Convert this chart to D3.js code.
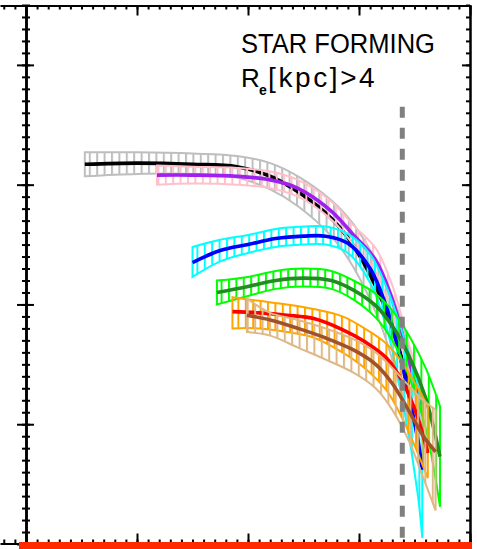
<!DOCTYPE html>
<html>
<head>
<meta charset="utf-8">
<script src="https://cdn.jsdelivr.net/npm/d3@7"></script>
<style>
body { margin:0; background:#fff; }
svg { display:block; }
</style>
</head>
<body>
<script>
var width = 477, height = 549;

// radius grid, median profile, and lower / upper edge of the band, one set per bin
var xGray = [0.53, 1.0, 1.5, 1.9, 2.2, 2.45, 2.75, 2.95, 3.2, 3.35, 3.45];
var yBlack = [3.17, 3.18, 3.17, 3.15, 3.07, 2.94, 2.72, 2.49, 2.05, 1.66, 1.33];
var loGray = [3.07, 3.09, 3.09, 3.06, 2.96, 2.82, 2.57, 2.31, 1.82, 1.37, 1.00];
var hiGray = [3.27, 3.27, 3.26, 3.24, 3.18, 3.07, 2.87, 2.67, 2.28, 1.95, 1.66];

var xPink = [1.18, 1.5, 1.9, 2.2, 2.45, 2.75, 2.95, 3.15, 3.3, 3.45, 3.55];
var yPurple = [3.08, 3.08, 3.07, 3.04, 2.97, 2.78, 2.58, 2.37, 2.04, 1.54, 1.16];
var loPink = [3.00, 3.01, 3.00, 2.97, 2.90, 2.71, 2.50, 2.27, 1.92, 1.41, 1.01];
var hiPink = [3.16, 3.15, 3.14, 3.11, 3.04, 2.86, 2.66, 2.47, 2.16, 1.67, 1.31];

var xCyan = [1.5, 1.75, 2.0, 2.25, 2.5, 2.7, 2.9, 3.1, 3.25, 3.4, 3.53, 3.57];
var yBlue = [2.35, 2.45, 2.50, 2.55, 2.57, 2.57, 2.51, 2.30, 1.97, 1.45, 0.87, 0.62];
var loCyan = [2.23, 2.36, 2.43, 2.48, 2.50, 2.50, 2.43, 2.18, 1.80, 1.16, 0.41, 0.05];
var hiCyan = [2.48, 2.54, 2.58, 2.63, 2.65, 2.65, 2.59, 2.42, 2.14, 1.74, 1.33, 1.18];

var xGreen = [1.72, 2.0, 2.25, 2.5, 2.75, 2.95, 3.15, 3.3, 3.45, 3.6, 3.73];
var yDkGreen = [2.10, 2.15, 2.20, 2.22, 2.20, 2.12, 1.99, 1.82, 1.57, 1.22, 0.73];
var loGreen = [2.00, 2.07, 2.13, 2.15, 2.13, 2.04, 1.89, 1.70, 1.40, 0.97, 0.31];
var hiGreen = [2.20, 2.23, 2.28, 2.30, 2.28, 2.20, 2.09, 1.95, 1.74, 1.47, 1.15];

var xOrange = [1.86, 2.1, 2.35, 2.6, 2.85, 3.05, 3.25, 3.4, 3.52, 3.62];
var yRed = [1.94, 1.93, 1.91, 1.88, 1.79, 1.69, 1.55, 1.34, 1.08, 0.76];
var loOrange = [1.80, 1.80, 1.77, 1.72, 1.60, 1.47, 1.28, 1.03, 0.78, 0.55];
var hiOrange = [2.06, 2.03, 2.00, 1.96, 1.90, 1.80, 1.67, 1.50, 1.32, 1.15];

var xTan = [1.99, 2.2, 2.45, 2.7, 2.95, 3.15, 3.3, 3.45, 3.58, 3.69];
var yBrown = [1.91, 1.87, 1.80, 1.72, 1.62, 1.50, 1.34, 1.11, 0.90, 0.77];
var loTan = [1.77, 1.74, 1.64, 1.54, 1.43, 1.30, 1.12, 0.86, 0.55, 0.28];
var hiTan = [2.05, 1.93, 1.87, 1.80, 1.71, 1.60, 1.47, 1.32, 1.20, 1.12];

var bandColors = ["#bebebe", "#ffc0cb", "#00ffff", "#00ff00", "#ffa500", "#deb887"];
var lineColors = ["#000000", "#a020f0", "#0000ff", "#228b22", "#ff0000", "#a0522d"];

var xCut = 3.39, yCutTop = 3.65;   // vertical dashed limit

var groups = [
    [xGray, yBlack, loGray, hiGray],
    [xPink, yPurple, loPink, hiPink],
    [xCyan, yBlue, loCyan, hiCyan],
    [xGreen, yDkGreen, loGreen, hiGreen],
    [xOrange, yRed, loOrange, hiOrange],
    [xTan, yBrown, loTan, hiTan]
].map(function(g){
    return g[0].map(function(v,i){ return {x:v, m:g[1][i], lo:g[2][i], hi:g[3][i]}; });
});

var svg = d3.select("body").append("svg")
            .attr("width",width)
            .attr("height",height)
            .style("background","#fff");

var x = d3.scaleLinear().domain([0,4]).range([26,470]);
var y = d3.scaleLinear().domain([0,4.5]).range([544,5]);

// hatch patterns, one per band colour
var defs = svg.append("defs");
bandColors.forEach(function(c,i){
    var p = defs.append("pattern")
                .attr("id","hatch"+i)
                .attr("patternUnits","userSpaceOnUse")
                .attr("width",7.4)
                .attr("height",10)
                .attr("x",i*2);
    p.append("rect").attr("x",0).attr("y",0).attr("width",2).attr("height",10).attr("fill",c);
});

var curve = d3.curveCatmullRom.alpha(0.5);
var area = d3.area()
             .x(function(d){ return x(d.x); })
             .y0(function(d){ return y(d.lo); })
             .y1(function(d){ return y(d.hi); })
             .curve(curve);
var line = d3.line()
             .x(function(d){ return x(d.x); })
             .y(function(d){ return y(d.m); })
             .curve(curve);

groups.forEach(function(g,i){
    svg.append("path")
       .attr("d",area(g))
       .attr("fill","url(#hatch"+i+")")
       .attr("stroke",bandColors[i])
       .attr("stroke-width",2);
    svg.append("path")
       .attr("d",line(g))
       .attr("fill","none")
       .attr("stroke",lineColors[i])
       .attr("stroke-width",3.6);
});

svg.append("line")
   .attr("x1",x(xCut)).attr("x2",x(xCut))
   .attr("y1",y(yCutTop)).attr("y2",y(0))
   .attr("stroke","#808080")
   .attr("stroke-width",5)
   .attr("stroke-dasharray","11,10");

// axes
var majorX = [0,1,2,3,4], minorX = d3.range(0,41).map(function(i){ return i/10; });
var majorY = [0,1,2,3,4], minorY = d3.range(0,46).map(function(i){ return i/10; });

function drawAxis(axis, tx, ty){
    var g = svg.append("g").attr("transform","translate("+tx+","+ty+")").call(axis);
    g.selectAll("path,line").attr("stroke","#000").attr("stroke-width",2);
    g.selectAll("text").remove();
    return g;
}
// top
drawAxis(d3.axisTop(x).tickValues(minorX).tickSize(-4).tickSizeOuter(0).tickFormat(""),0,5.5);
drawAxis(d3.axisTop(x).tickValues(majorX).tickSize(-10).tickSizeOuter(0).tickFormat(""),0,5.5);
// bottom
drawAxis(d3.axisBottom(x).tickValues(minorX).tickSize(-4).tickSizeOuter(0).tickFormat(""),0,543.5);
drawAxis(d3.axisBottom(x).tickValues(majorX).tickSize(-10).tickSizeOuter(0).tickFormat(""),0,543.5);
// left, with the ticks of the next panel on its outer side
drawAxis(d3.axisRight(y).tickValues(minorY).tickSize(4).tickSizeOuter(0).tickFormat(""),26,0);
drawAxis(d3.axisRight(y).tickValues(majorY).tickSize(8).tickSizeOuter(0).tickFormat(""),26,0);
drawAxis(d3.axisLeft(y).tickValues(minorY).tickSize(4).tickSizeOuter(0).tickFormat(""),26,0);
drawAxis(d3.axisLeft(y).tickValues(majorY).tickSize(9).tickSizeOuter(0).tickFormat(""),26,0);
// right
drawAxis(d3.axisLeft(y).tickValues(minorY).tickSize(4).tickSizeOuter(0).tickFormat(""),470,0);
drawAxis(d3.axisLeft(y).tickValues(majorY).tickSize(8).tickSizeOuter(0).tickFormat(""),470,0);

// edge of the neighbouring panel on the left
var xPrev = d3.scaleLinear().domain([3.766,4]).range([0,26]);
drawAxis(d3.axisTop(xPrev).tickValues([3.8,3.9]).tickSize(-4).tickSizeOuter(0).tickFormat(""),0,5.5);
drawAxis(d3.axisBottom(xPrev).tickValues([3.8,3.9]).tickSize(-4).tickSizeOuter(0).tickFormat(""),0,543.5);

// top of the panel below
svg.append("rect")
   .attr("x",19).attr("y",542)
   .attr("width",453).attr("height",7)
   .attr("fill","#ff2a00");

// labels
var font = "'Liberation Sans', Arial, sans-serif";
svg.append("text")
   .attr("x",241).attr("y",53)
   .attr("font-family",font).attr("font-size",27)
   .attr("textLength",194).attr("lengthAdjust","spacingAndGlyphs")
   .text("STAR FORMING");
var lab = svg.append("text")
   .attr("y",87)
   .attr("font-family",font).attr("font-size",26);
lab.append("tspan").attr("x",241).text("R");
lab.append("tspan").attr("x",259).attr("dy",8)
   .attr("font-size",14).attr("font-weight","bold").text("e");
lab.append("tspan").attr("x",268).attr("dy",-8)
   .attr("font-size",28).attr("letter-spacing",2.6).text("[kpc]>4");
</script>
</body>
</html>
